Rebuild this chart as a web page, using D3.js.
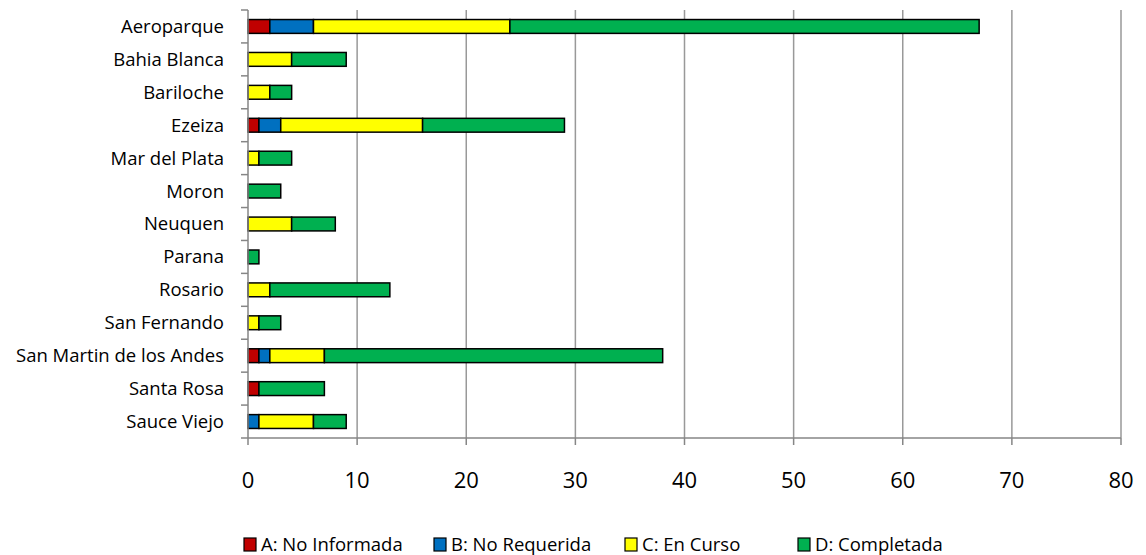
<!DOCTYPE html>
<meta charset="utf-8">
<style>
body { margin: 0; background: #fff; }
text { font-family: "Open Sans", sans-serif; fill: #000; }
</style>
<div id="chart"></div>
<script src="https://d3js.org/d3.v7.min.js"></script>
<script>

// data
var airports = ["Aeroparque", "Bahia Blanca", "Bariloche", "Ezeiza", "Mar del Plata", "Moron",
  "Neuquen", "Parana", "Rosario", "San Fernando", "San Martin de los Andes", "Santa Rosa", "Sauce Viejo"];
var seriesNames = ["A: No Informada", "B: No Requerida", "C: En Curso", "D: Completada"];
var noInformada = [2, 0, 0, 1, 0, 0, 0, 0, 0, 0, 1, 1, 0];
var noRequerida = [4, 0, 0, 2, 0, 0, 0, 0, 0, 0, 1, 0, 1];
var enCurso     = [18, 4, 2, 13, 1, 0, 4, 0, 2, 1, 5, 0, 5];
var completada  = [43, 5, 2, 13, 3, 3, 4, 1, 11, 2, 31, 6, 3];
var xTicks = [0, 10, 20, 30, 40, 50, 60, 70, 80];
var colors = ["#C00000", "#0070C0", "#FFFF00", "#00B050"];

var W = 1146, H = 555;
var margin = {top: 10, right: 25, bottom: 117, left: 248};
var width = W - margin.left - margin.right,
    height = H - margin.top - margin.bottom;

var svg = d3.select("#chart").append("svg")
    .attr("width", W).attr("height", H);
var g = svg.append("g")
    .attr("transform", "translate(" + margin.left + "," + margin.top + ")");

var x = d3.scaleLinear().domain([0, 80]).range([0, width]);
var y = d3.scaleBand().domain(airports).range([0, height]).paddingInner(0.58).paddingOuter(0.29);

// grid lines
g.append("g").selectAll("line")
  .data(xTicks.slice(1))
  .enter().append("line")
    .attr("x1", d => x(d)).attr("x2", d => x(d))
    .attr("y1", 0).attr("y2", height)
    .attr("stroke", "#999").attr("stroke-width", 1.5);

// rows for the stack
var rows = airports.map((a, i) => ({
  name: a,
  A: noInformada[i], B: noRequerida[i], C: enCurso[i], D: completada[i]
}));
var stack = d3.stack().keys(["A", "B", "C", "D"])(rows);

g.append("g").selectAll("g")
  .data(stack)
  .enter().append("g")
    .attr("fill", (d, i) => colors[i])
  .selectAll("rect")
  .data(d => d.filter(p => p[1] > p[0]))
  .enter().append("rect")
    .attr("x", d => x(d[0]))
    .attr("y", d => y(d.data.name))
    .attr("width", d => x(d[1]) - x(d[0]))
    .attr("height", y.bandwidth())
    .attr("stroke", "#000").attr("stroke-width", 1.5);

// y axis
var yStep = height / airports.length;
g.append("line").attr("x1", 0).attr("x2", 0).attr("y1", 0).attr("y2", height)
  .attr("stroke", "#868686").attr("stroke-width", 1.5);
g.append("g").selectAll("line")
  .data(d3.range(airports.length + 1))
  .enter().append("line")
    .attr("x1", -7).attr("x2", 0)
    .attr("y1", d => d * yStep).attr("y2", d => d * yStep)
    .attr("stroke", "#868686").attr("stroke-width", 1.5);
g.append("g").selectAll("text")
  .data(airports)
  .enter().append("text")
    .attr("x", -24)
    .attr("y", d => y(d) + y.bandwidth() / 2)
    .attr("dy", "0.35em")
    .attr("text-anchor", "end")
    .attr("font-size", 18.5)
    .text(d => d);

// x axis
g.append("line").attr("x1", 0).attr("x2", width).attr("y1", height).attr("y2", height)
  .attr("stroke", "#868686").attr("stroke-width", 1.5);
g.append("g").selectAll("line")
  .data(xTicks)
  .enter().append("line")
    .attr("x1", d => x(d)).attr("x2", d => x(d))
    .attr("y1", height).attr("y2", height + 7)
    .attr("stroke", "#868686").attr("stroke-width", 1.5);
g.append("g").selectAll("text")
  .data(xTicks)
  .enter().append("text")
    .attr("x", d => x(d))
    .attr("y", height + 50)
    .attr("text-anchor", "middle")
    .attr("font-size", 22)
    .text(d => d);

// legend
var legendX = [244, 434, 625, 798];
var legend = svg.append("g").selectAll("g")
  .data(seriesNames)
  .enter().append("g")
    .attr("transform", (d, i) => "translate(" + legendX[i] + "," + 538 + ")");
legend.append("rect")
  .attr("width", 12).attr("height", 13)
  .attr("fill", (d, i) => colors[i])
  .attr("stroke", "#000").attr("stroke-width", 1.2);
legend.append("text")
  .attr("x", 17).attr("y", 13)
  .attr("font-size", 18.5)
  .text(d => d);

</script>
